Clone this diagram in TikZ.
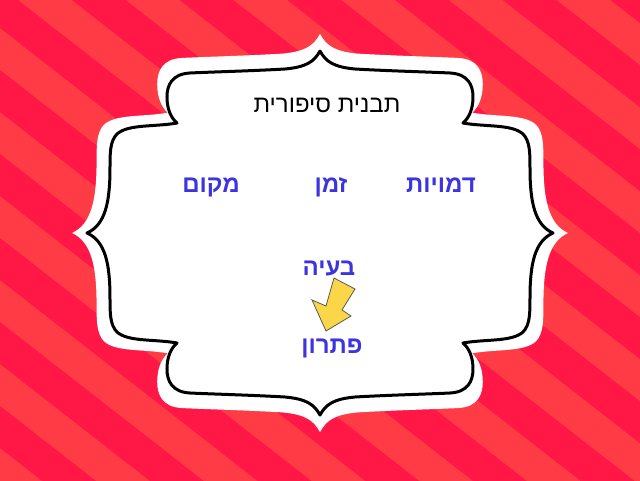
\documentclass[tikz,border=0pt]{standalone}
\usepackage{fontspec}
\newfontfamily\hebfont[Script=Hebrew]{Liberation Sans}
\TeXXeTstate=1
\definecolor{sdark}{RGB}{255,24,70}
\definecolor{slight}{RGB}{255,60,70}
\definecolor{wblue}{RGB}{60,52,222}
\definecolor{ayellow}{RGB}{250,214,72}

% outline of the frame, centred on the origin
\newcommand\framepath{(0,182)
  .. controls (-6,171) and (-14,166) .. (-35,164)
  .. controls (-70,162) and (-110,161) .. (-130,160)
  .. controls (-148,159) and (-153,148) .. (-153,136)
  .. controls (-153,124) and (-149,115) .. (-143,110)
  .. controls (-165,106) and (-192,109) .. (-203,99)
  .. controls (-210,92) and (-210,80) .. (-210,65)
  .. controls (-210,30) and (-215,8) .. (-233,0)
  .. controls (-215,-8) and (-210,-30) .. (-210,-65)
  .. controls (-210,-80) and (-210,-92) .. (-203,-99)
  .. controls (-192,-109) and (-165,-106) .. (-143,-110)
  .. controls (-149,-115) and (-153,-124) .. (-153,-136)
  .. controls (-153,-148) and (-148,-159) .. (-130,-160)
  .. controls (-110,-161) and (-70,-162) .. (-35,-164)
  .. controls (-14,-166) and (-6,-171) .. (0,-182)
  .. controls (6,-171) and (14,-166) .. (35,-164)
  .. controls (70,-162) and (110,-161) .. (130,-160)
  .. controls (148,-159) and (153,-148) .. (153,-136)
  .. controls (153,-124) and (149,-115) .. (143,-110)
  .. controls (165,-106) and (192,-109) .. (203,-99)
  .. controls (210,-92) and (210,-80) .. (210,-65)
  .. controls (210,-30) and (215,-8) .. (233,0)
  .. controls (215,8) and (210,30) .. (210,65)
  .. controls (210,80) and (210,92) .. (203,99)
  .. controls (192,109) and (165,106) .. (143,110)
  .. controls (149,115) and (153,124) .. (153,136)
  .. controls (153,148) and (148,159) .. (130,160)
  .. controls (110,161) and (70,162) .. (35,164)
  .. controls (14,166) and (6,171) .. (0,182) -- cycle}

\begin{document}
\begin{tikzpicture}[x=1pt,y=1pt]
  \tikzset{word/.style={anchor=base,text=wblue,font=\hebfont\bfseries\fontsize{24}{28}\selectfont},
    title text/.style={anchor=base,text=black,font=\hebfont\fontsize{24}{28}\selectfont}}

  \useasboundingbox (-320,-247) rectangle (320,233);

  % striped background
  \fill[slight] (-325,-252) rectangle (325,238);
  \begin{scope}[shift={(-320,233)},yscale=-1]
    \foreach \i in {-6,...,6}{
      \pgfmathsetmacro\c{84*\i-14}
      \fill[sdark] (-10,\c-7.8) -- (650,\c+507) -- (650,\c+549) -- (-10,\c+34.2) -- cycle;
    }
  \end{scope}

  % frame
  \fill[white,xscale=1.064,yscale=1.094] \framepath;
  \filldraw[fill=white,draw=black,line width=3,line join=round] \framepath;

  \node[title text] (title) at (7,121) {\beginR תבנית סיפורית\endR};
  \node[word] (makom) at (-109,41) {\beginR מקום\endR};
  \node[word] (zman) at (11,41) {\beginR זמן\endR};
  \node[word] (dmuyot) at (121,41) {\beginR דמויות\endR};
  \node[word] (beaya) at (9,-42) {\beginR בעיה\endR};
  \node[word] (pitaron) at (12,-120) {\beginR פתרון\endR};

  % arrow from problem to solution
  \draw[fill=ayellow,draw=black!65,line width=0.8,line join=miter]
    (14,-45) -- (35,-56) -- (22,-77) -- (31,-83) -- (6,-98) -- (-8,-67) -- (6,-73) -- cycle;
\end{tikzpicture}
\end{document}
